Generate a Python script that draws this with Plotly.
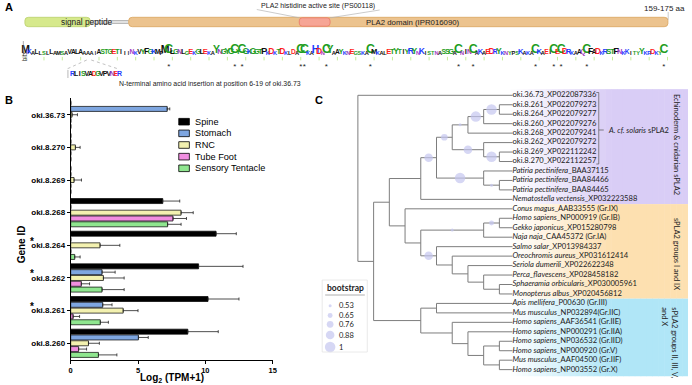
import plotly.graph_objects as go

W, H = 692, 385

# ---------------- Panel B data ----------------
genes = ["oki.36.73", "oki.8.270", "oki.8.269", "oki.8.268",
         "oki.8.264", "oki.8.262", "oki.8.261", "oki.8.260"]
tissues = ["Spine", "Stomach", "RNC", "Tube Foot", "Sensory Tentacle"]
tissue_colors = ["#000000", "#7ea6e0", "#f3f1b0", "#f08ee0", "#8fe68f"]
spine = [0, 0, 0, 6.84, 10.8, 9.5, 10.2, 8.7]
spine_sd = [0, 0, 0, 1.26, 1.5, 3.3, 2.3, 2.26]
stomach = [7.17, 0, 0, 0, 0, 2.33, 2.38, 5.03]
stomach_sd = [0.19, 0, 0, 0, 0, 0.97, 0.69, 0.73]
rnc = [0.1, 0.35, 0.25, 8.2, 2.18, 2.43, 3.9, 1.32]
rnc_sd = [0.4, 0.35, 0.55, 0.9, 1.47, 1.54, 1.1, 0.81]
tube = [0, 0, 0, 7.6, 0, 0.79, 0.18, 0.59]
tube_sd = [0, 0, 0, 1.0, 0, 0.61, 0.48, 0.59]
sensory = [0, 0, 0, 7.2, 0.3, 2.33, 2.2, 2.06]
sensory_sd = [0, 0, 0, 1.0, 0.4, 1.64, 0.6, 1.37]
starred = ["oki.8.264", "oki.8.262", "oki.8.261"]
x_ticks = [0, 5, 10, 15]

# ---------------- Panel A data ----------------
logo_letters = ("MKALLSLLAM" "SAVALAAAAI" "ASTGETIIIN" "KVYFGKMPMC" "LGNLGEKGLE"
                "KAYNGYGCYC" "GKGGTPKDKT" "DKLDACCKAH" "DNCYAAYKNE" "GSKACMKALE"
                "TYTIYRYNKI" "STNASSGACN" "INCAKAEDRY" "KNYPSKAKAC" "KAEICECDRK"
                "AAQCFADKRS" "TFNKKITYYK" "RDKYC-")
logo_bits = ("7323222322" "2233332221" "3333443213" "2345443279" "5433242344"
             "2274455949" "5354462524" "5223299227" "5297234224" "2222942224"
             "4533455252" "2222344292" "4392424535" "2222242229" "4233949542"
             "2339535244" "4642322252" "242290")
insert_letters = "RLISVADGVPVNER"
signal_peptide = (-0.2, 17.6)
pla2_domain = (28.1, 175.1)
active_site = (74.6, 83.0)

# ---------------- Panel C data ----------------
leaf_labels = [
    "oki.36.73_XP022087336", "oki.8.261_XP022079273", "oki.8.264_XP022079277",
    "oki.8.260_XP022079276", "oki.8.268_XP022079241", "oki.8.262_XP022079272",
    "oki.8.269_XP022112242", "oki.8.270_XP022112257",
    "<i>Patiria pectinifera</i>_BAA37115", "<i>Patiria pectinifera</i>_BAA84466",
    "<i>Patiria pectinifera</i>_BAA84465", "<i>Nematostella vectensis</i>_XP032223588",
    "<i>Conus magus</i>_AAB33555 (Gr.IX)", "<i>Homo sapiens</i>_NP000919 (Gr.IB)",
    "<i>Gekko japonicus</i>_XP015280798", "<i>Naja naja</i>_CAA45372 (Gr.IA)",
    "<i>Salmo salar</i>_XP013984337", "<i>Oreochromis aureus</i>_XP031612414",
    "<i>Seriola dumerili</i>_XP022622348", "<i>Perca_flavescens</i>_XP028458182",
    "<i>Sphaeramia orbicularis</i>_XP030005961", "<i>Monopterus albus</i>_XP020456812",
    "<i>Apis mellifera</i>_P00630 (Gr.III)", "<i>Mus musculus</i>_NP032894(Gr.IIC)",
    "<i>Homo sapiens</i>_AAF36541 (Gr.IIE)", "<i>Homo sapiens</i>_NP000291 (Gr.IIA)",
    "<i>Homo sapiens</i>_NP036532 (Gr.IID)", "<i>Homo sapiens</i>_NP000920 (Gr.V)",
    "<i>Mus musculus</i>_AAF04500 (Gr.IIF)", "<i>Homo sapiens</i>_NP003552 (Gr.X)",
]
# internal nodes: name -> (level, bootstrap, children); ints are leaf indices
tree_nodes = {
    "root": (0, None, [0, "n1"]),
    "n1": (1, None, ["n2", "g2"]),
    "n2": (2, None, ["e3", "g1"]),
    "e3": (4, None, ["e4", 11]),
    "e4": (5, 0.88, ["e5", "pat"]),
    "e5": (6, 0.76, ["e6", "e7"]),
    "e6": (7, 0.53, ["e8", 4]),
    "e8": (8, 1.0, ["e9", 3]),
    "e9": (9, 1.0, [1, 2]),
    "e7": (8, 0.88, [5, "e10"]),
    "e10": (9, 1.0, [6, 7]),
    "pat": (8, 1.0, [8, "pat2"]),
    "pat2": (9, 0.53, [9, 10]),
    "g1": (3, None, [12, "g1a"]),
    "g1a": (4, None, ["g1b", "fish"]),
    "g1b": (8, 0.53, ["g1c", 15]),
    "g1c": (9, 0.65, [13, 14]),
    "fish": (5, 0.88, [16, "f2"]),
    "f2": (6, None, [17, "f3"]),
    "f3": (7, None, [18, "f4"]),
    "f4": (8, None, [19, "f5"]),
    "f5": (9, None, [20, 21]),
    "g2": (4, None, ["g2a", "g2b"]),
    "g2a": (5, None, [22, 23]),
    "g2b": (6, None, [24, "g2c"]),
    "g2c": (7, None, [25, "g2d"]),
    "g2d": (8, None, ["g2e", "g2f"]),
    "g2e": (9, None, [26, 27]),
    "g2f": (9, None, [28, 29]),
}
clades = [
    ("Echinoderm & cnidarian sPLA2", -0.65, 11.5, (217, 205, 246)),
    ("sPLA2 groups I and IX", 11.5, 21.5, (253, 224, 176)),
    ("sPLA2 groups II, III, V,<br>and X", 21.5, 29.7, (176, 230, 247)),
]
boot_legend = [0.53, 0.65, 0.76, 0.88, 1]

# ---------------- helpers (pixel geometry) ----------------
def px(x):
    return x / W

def py(y):
    return 1 - y / H

LV0, LVPX = 359.0, 15.86      # tree level -> pixel
IX0, IXPX = 95.3, 9.46        # leaf index -> pixel
def lv(xp):
    return (xp - LV0) / LVPX

def ix(yp):
    return (yp - IX0) / IXPX

LEAF_END = lv(515)
FONT_B = "Liberation Sans, Arial, sans-serif"
FONT_C = "Lato, Open Sans, sans-serif"

fig = go.Figure()

# ================= Panel B =================
series = [spine, stomach, rnc, tube, sensory]
sds = [spine_sd, stomach_sd, rnc_sd, tube_sd, sensory_sd]
for name, col, vals, sd in zip(tissues, tissue_colors, series, sds):
    fig.add_trace(go.Bar(
        y=genes, x=vals, orientation="h", name=name,
        marker=dict(color=col, line=dict(color="black", width=0.7)),
        error_x=dict(type="data", array=sd, arrayminus=[0] * len(sd), symmetric=False,
                     color="#222222", thickness=0.8, width=1.5),
        xaxis="x", yaxis="y", showlegend=False))

shapes = []
annotations = []

# custom legend for B
for k, (name, col) in enumerate(zip(tissues, tissue_colors)):
    yc = 121.7 + 11.65 * k
    shapes.append(dict(type="rect", xref="paper", yref="paper",
                       x0=px(178.3), x1=px(189), y0=py(yc - 3.3), y1=py(yc + 3.3),
                       fillcolor=col, line=dict(color="black", width=0.8)))
    annotations.append(dict(text=name, xref="paper", yref="paper", x=px(193), y=py(yc),
                            xanchor="left", yanchor="middle", showarrow=False,
                            font=dict(family=FONT_B, size=9.2, color="black")))

for g in starred:
    annotations.append(dict(text="<b>*</b>", xref="paper", yref="y", x=px(30), y=g,
                            xanchor="center", yanchor="middle", yshift=4, showarrow=False,
                            font=dict(family=FONT_B, size=10, color="black")))

annotations += [
    dict(text="<b>Gene ID</b>", xref="paper", yref="paper", x=px(19.5), y=py(244),
         xanchor="center", yanchor="middle",
         textangle=-90, showarrow=False, font=dict(family=FONT_B, size=10, color="black")),
    dict(text="<b>Log<sub>2</sub> (TPM+1)</b>", xref="paper", yref="paper", x=px(171),
         y=py(377.5), xanchor="center", yanchor="middle", showarrow=False,
         font=dict(family=FONT_B, size=10, color="black")),
    dict(text="<b>A</b>", xref="paper", yref="paper", x=px(1), y=py(7), xanchor="left",
         yanchor="middle", showarrow=False, font=dict(family=FONT_B, size=11, color="black")),
    dict(text="<b>B</b>", xref="paper", yref="paper", x=px(1), y=py(100), xanchor="left",
         yanchor="middle", showarrow=False, font=dict(family=FONT_B, size=11, color="black")),
    dict(text="<b>C</b>", xref="paper", yref="paper", x=px(314), y=py(100), xanchor="left",
         yanchor="middle", showarrow=False, font=dict(family=FONT_B, size=11, color="black")),
]

# ================= Panel A =================
CHEM = {}
for a in "GSTYC":
    CHEM[a] = "#1f9e1f"
for a in "NQ":
    CHEM[a] = "#a23cc0"
for a in "KRH":
    CHEM[a] = "#1e3cff"
for a in "DE":
    CHEM[a] = "#ff1e1e"

lx, lt, ls, lc = [], [], [], []
for i, (a, b) in enumerate(zip(logo_letters, logo_bits)):
    h = int(b)
    if a == "-" or h == 0:
        continue
    lx.append(i)
    lt.append(a)
    ls.append(3.8 + 0.95 * h)
    lc.append(CHEM.get(a, "#111111"))
fig.add_trace(go.Scatter(x=lx, y=[0] * len(lx), mode="text", text=lt,
                         textposition="top center",
                         textfont=dict(family=FONT_B, size=ls, color=lc, weight="bold"),
                         xaxis="x3", yaxis="y3", showlegend=False, hoverinfo="skip"))
# stars under conserved cysteines
cys = [i for i, (a, b) in enumerate(zip(logo_letters, logo_bits)) if a == "C" and b == "9"]
fig.add_trace(go.Scatter(x=cys, y=[-3.2] * len(cys), mode="text", text=["*"] * len(cys),
                         textposition="middle center",
                         textfont=dict(family=FONT_B, size=8, color="#222222"),
                         xaxis="x3", yaxis="y3", showlegend=False, hoverinfo="skip"))
tick_pos = list(range(0, len(logo_letters), 5))
fig.add_trace(go.Scatter(x=tick_pos, y=[-0.75] * len(tick_pos), mode="markers",
                         marker=dict(symbol="line-ns-open", size=2.5,
                                     line=dict(color="#aaaaaa", width=0.8)),
                         xaxis="x3", yaxis="y3", showlegend=False, hoverinfo="skip"))
# insertion mini-logo
ins_x = [12.75 + 0.99 * k for k in range(len(insert_letters))]
fig.add_trace(go.Scatter(x=ins_x, y=[-6.3] * len(ins_x), mode="text", text=list(insert_letters),
                         textposition="top center",
                         textfont=dict(family=FONT_B, size=7,
                                       color=[CHEM.get(a, "#111111") for a in insert_letters],
                                       weight="bold"),
                         xaxis="x3", yaxis="y3", showlegend=False, hoverinfo="skip"))

def rrect_path(x0, x1, y0, y1, r, rx):
    # x in residue units (x3), y in paper units; r in paper-y, rx in residue units
    return (f"M {x0+rx},{y0} L {x1-rx},{y0} Q {x1},{y0} {x1},{y0-r} "
            f"L {x1},{y1+r} Q {x1},{y1} {x1-rx},{y1} L {x0+rx},{y1} "
            f"Q {x0},{y1} {x0},{y1+r} L {x0},{y0-r} Q {x0},{y0} {x0+rx},{y0} Z")

ytop, ybot = py(17.3), py(26.7)
# linker double line
for yy in (20.8, 23.2):
    shapes.append(dict(type="line", xref="x3", yref="paper", x0=signal_peptide[1],
                       x1=pla2_domain[0], y0=py(yy), y1=py(yy),
                       line=dict(color="#9a9a9a", width=1)))
shapes.append(dict(type="path", xref="x3", yref="paper",
                   path=rrect_path(signal_peptide[0], signal_peptide[1], ytop, ybot, 0.008, 1.0),
                   fillcolor="#d6e98c", line=dict(color="#b9cf6a", width=0.8)))
shapes.append(dict(type="path", xref="x3", yref="paper",
                   path=rrect_path(pla2_domain[0], pla2_domain[1], ytop, ybot, 0.008, 1.0),
                   fillcolor="#ecc38e", line=dict(color="#d9a35c", width=0.8)))
shapes.append(dict(type="path", xref="x3", yref="paper",
                   path=rrect_path(active_site[0], active_site[1], py(17.8), py(26.2), 0.008, 0.8),
                   fillcolor="#f6a595", line=dict(color="#ea7866", width=0.8)))
# callout lines
for (xa, ya, xb, yb) in [(257, 9.5, 300, 17.8), (381, 10, 331, 17.8), (672, 12, 672, 20)]:
    shapes.append(dict(type="line", xref="paper", yref="paper", x0=px(xa), y0=py(ya),
                       x1=px(xb), y1=py(yb), line=dict(color="#b5b5b5", width=0.7)))
# logo y-axis
shapes.append(dict(type="line", xref="paper", yref="paper", x0=px(21.5), x1=px(21.5),
                   y0=py(41), y1=py(56), line=dict(color="#777777", width=0.6)))
# insertion callout dashed lines and mini axis
for (xa, ya, xb, yb) in [(85.5, 60, 65.5, 69), (90, 60, 117.5, 69)]:
    shapes.append(dict(type="line", xref="paper", yref="paper", x0=px(xa), y0=py(ya),
                       x1=px(xb), y1=py(yb), line=dict(color="#999999", width=0.6, dash="dot")))
shapes.append(dict(type="line", xref="paper", yref="paper", x0=px(66.5), x1=px(66.5),
                   y0=py(70), y1=py(78), line=dict(color="#888888", width=0.6)))

annotations += [
    dict(text="signal peptide", xref="paper", yref="paper", x=px(57), y=py(22),
         yanchor="middle", showarrow=False, font=dict(family=FONT_B, size=8.3, color="#222")),
    dict(text="PLA2 domain (IPR016090)", xref="paper", yref="paper", x=px(415), y=py(22),
         yanchor="middle", showarrow=False, font=dict(family=FONT_B, size=7.8, color="#222")),
    dict(text="PLA2 histidine active site (PS00118)", xref="paper", yref="paper", x=px(319),
         y=py(6.5), yanchor="middle", showarrow=False,
         font=dict(family=FONT_B, size=7.1, color="#222")),
    dict(text="159-175 aa", xref="paper", yref="paper", x=px(691), y=py(8.3), xanchor="right",
         yanchor="middle", showarrow=False, font=dict(family=FONT_B, size=8, color="#222")),
    dict(text="bits", xref="paper", yref="paper", x=px(17.5), y=py(48), textangle=-90,
         showarrow=False, font=dict(family=FONT_B, size=6.5, color="#333")),
    dict(text="N-terminal amino acid insertion at position 6-19 of oki.36.73", xref="paper",
         yref="paper", x=px(116), y=py(83.5), yanchor="middle", showarrow=False,
         font=dict(family=FONT_B, size=6.9, color="#222")),
]

# ================= Panel C =================
pos = {}

def layout_tree(node):
    if isinstance(node, int):
        return node
    level, boot, kids = tree_nodes[node]
    ys = [layout_tree(k) for k in kids]
    y = (ys[0] + ys[-1]) / 2
    pos[node] = (level, y)
    return y

layout_tree("root")
tx, ty = [], []
bx, by, bs = [], [], []

def boot_size(b):
    return 3 + (b - 0.53) / 0.47 * 7.5

for name, (level, boot, kids) in tree_nodes.items():
    kys = [k if isinstance(k, int) else pos[k][1] for k in kids]
    tx += [level, level, None]
    ty += [min(kys), max(kys), None]
    for k, ky in zip(kids, kys):
        xe = LEAF_END if isinstance(k, int) else tree_nodes[k][0]
        tx += [level, xe, None]
        ty += [ky, ky, None]
        if not isinstance(k, int) and tree_nodes[k][1] is not None:
            bx.append((level + tree_nodes[k][0]) / 2)
            by.append(ky)
            bs.append(boot_size(tree_nodes[k][1]))

# clade backgrounds with horizontal gradient
g0, g1, gend = 513, 615, 692
nstrip = 30
for label, ya, yb, rgb in clades:
    for s in range(nstrip):
        xa = g0 + (gend - g0) * s / nstrip
        xb = g0 + (gend - g0) * (s + 1) / nstrip + 0.5
        t = min(1.0, ((xa + xb) / 2 - g0) / (g1 - g0))
        c = tuple(int(255 + (v - 255) * t) for v in rgb)
        shapes.append(dict(type="rect", xref="x2", yref="y2", x0=lv(xa), x1=lv(xb),
                           y0=ya, y1=yb, fillcolor=f"rgb{c}", line=dict(width=0),
                           layer="below"))

fig.add_trace(go.Scatter(x=tx, y=ty, mode="lines", line=dict(color="#7d7d7d", width=1),
                         xaxis="x2", yaxis="y2", showlegend=False, hoverinfo="skip"))
fig.add_trace(go.Scatter(x=bx, y=by, mode="markers",
                         marker=dict(size=bs, color="#c4c6ef", line=dict(width=0)),
                         xaxis="x2", yaxis="y2", showlegend=False, hoverinfo="skip"))
fig.add_trace(go.Scatter(x=[LEAF_END] * len(leaf_labels), y=list(range(len(leaf_labels))),
                         mode="text", text=leaf_labels, textposition="middle right",
                         textfont=dict(family=FONT_C, size=7.6, color="#222222"),
                         xaxis="x2", yaxis="y2", showlegend=False, hoverinfo="skip"))

# A. cf. solaris bracket
bxp = lv(602)
for (xa, ya, xb, yb) in [(lv(599.5), ix(92.5), bxp, ix(92.5)), (bxp, ix(92.5), bxp, ix(164)),
                         (bxp, ix(164), lv(599.5), ix(164)), (bxp, ix(130), lv(607), ix(130))]:
    shapes.append(dict(type="line", xref="x2", yref="y2", x0=xa, y0=ya, x1=xb, y1=yb,
                       line=dict(color="#555555", width=0.7)))
annotations.append(dict(text="<i>A. cf. solaris</i> sPLA2", xref="x2", yref="y2",
                        x=lv(609), y=ix(130), xanchor="left", yanchor="middle", showarrow=False,
                        font=dict(family=FONT_C, size=7.5, color="#222")))
# clade side labels
annotations += [
    dict(text=clades[0][0], xref="x2", yref="y2", x=lv(681), y=ix(144), textangle=90,
         xanchor="center", yanchor="middle",
         showarrow=False, font=dict(family=FONT_C, size=7.5, color="#222")),
    dict(text=clades[1][0], xref="x2", yref="y2", x=lv(681), y=ix(254), textangle=90,
         xanchor="center", yanchor="middle",
         showarrow=False, font=dict(family=FONT_C, size=7.5, color="#222")),
    dict(text=clades[2][0], xref="x2", yref="y2", x=lv(673), y=ix(305), textangle=90,
         xanchor="center", yanchor="top", align="left", showarrow=False,
         font=dict(family=FONT_C, size=7.5, color="#222")),
]

# bootstrap legend
shapes.append(dict(type="rect", xref="paper", yref="paper", x0=px(323), x1=px(368.5),
                   y0=py(280), y1=py(352), line=dict(color="#e4e4e4", width=0.8)))
shapes.append(dict(type="line", xref="paper", yref="paper", x0=px(326), x1=px(366),
                   y0=py(295), y1=py(295), line=dict(color="#9a9a9a", width=0.8)))
annotations.append(dict(text="<b>bootstrap</b>", xref="paper", yref="paper", x=px(346),
                        y=py(288), yanchor="middle", showarrow=False,
                        font=dict(family=FONT_C, size=8.5, color="#222")))
leg_y = [305.7, 315.5, 324.3, 335, 347]
fig.add_trace(go.Scatter(x=[lv(331)] * len(boot_legend), y=[ix(v) for v in leg_y],
                         mode="markers",
                         marker=dict(size=[boot_size(b) for b in boot_legend], color="#c4c6ef",
                                     line=dict(width=0)),
                         xaxis="x2", yaxis="y2", showlegend=False, hoverinfo="skip"))
for b, yv in zip(boot_legend, leg_y):
    annotations.append(dict(text=str(b), xref="paper", yref="paper", x=px(337.5), y=py(yv),
                            xanchor="left", yanchor="middle", showarrow=False,
                            font=dict(family=FONT_C, size=7.5, color="#222")))

# ================= Layout =================
hidden = dict(visible=False, showgrid=False, zeroline=False, fixedrange=True)
fig.update_layout(
    width=W, height=H, margin=dict(l=0, r=0, t=0, b=0),
    paper_bgcolor="white", plot_bgcolor="rgba(0,0,0,0)",
    showlegend=False, barmode="group", bargap=0.11, bargroupgap=0.14,
    xaxis=dict(domain=[px(69.3), px(273)], range=[0, 15], tickvals=x_ticks,
               ticks="outside", ticklen=3, tickwidth=1, tickcolor="black",
               showline=True, linecolor="black", linewidth=1, showgrid=False,
               zeroline=False, anchor="y", fixedrange=True,
               tickfont=dict(family=FONT_B, size=7.5, color="black", weight="bold")),
    yaxis=dict(domain=[py(359.6), py(98.4)], categoryorder="array", categoryarray=genes,
               autorange="reversed", ticks="outside", ticklen=3, tickwidth=1,
               tickcolor="black", showline=True, linecolor="black", linewidth=1,
               showgrid=False, zeroline=False, anchor="x", fixedrange=True,
               tickfont=dict(family=FONT_B, size=8, color="black", weight="bold")),
    xaxis2=dict(domain=[0, 1], range=[lv(0), lv(W)], anchor="y2", **hidden),
    yaxis2=dict(domain=[0, 1], range=[ix(H), ix(0)], anchor="x2", **hidden),
    xaxis3=dict(domain=[0, 1], range=[(0 - 23.85) / 3.7, (W - 23.85) / 3.7], anchor="y3", **hidden),
    yaxis3=dict(domain=[0, 1], range=[-(H - 56) / 3.5, 56 / 3.5], anchor="x3", **hidden),
    shapes=shapes, annotations=annotations,
)
fig.write_html("out.html", config={"displayModeBar": False, "staticPlot": False},
               post_script="document.body.style.margin='0';document.body.style.padding='0';"
                           "document.body.style.overflow='hidden';")
